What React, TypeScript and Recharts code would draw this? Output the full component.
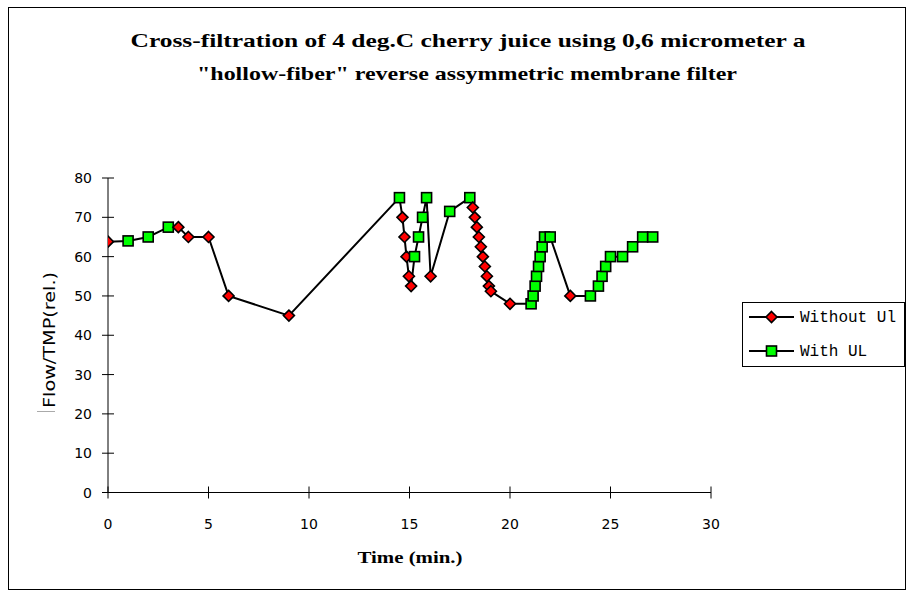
import React from 'react';
import { ComposedChart, Scatter, XAxis, YAxis } from 'recharts';

// Filtration run without ultrasound (red diamonds)
const withoutUlTime = [0, 3.5, 4, 5, 6, 9, 14.65, 14.75, 14.85, 14.97, 15.08, 16.05, 18.15, 18.25, 18.35, 18.45, 18.55, 18.65, 18.75, 18.85, 18.95, 19.05, 20, 23];
const withoutUlFlow = [63.8, 67.5, 65, 65, 50, 45, 70, 65, 60, 55, 52.5, 55, 72.5, 70, 67.5, 65, 62.5, 60, 57.5, 55, 52.5, 51.2, 48, 50];

// Filtration run with ultrasound (green squares)
const withUlTime = [1, 2, 3, 14.5, 15.25, 15.45, 15.65, 15.85, 17, 18, 21.05, 21.15, 21.25, 21.32, 21.42, 21.5, 21.6, 21.72, 22, 24, 24.4, 24.58, 24.76, 25, 25.6, 26.1, 26.6, 27.1];
const withUlFlow = [64, 65, 67.5, 75, 60, 65, 70, 75, 71.5, 75, 48, 50, 52.5, 55, 57.5, 60, 62.5, 65, 65, 50, 52.5, 55, 57.5, 60, 60, 62.5, 65, 65];

const xTicks = [0, 5, 10, 15, 20, 25, 30];
const yTicks = [0, 10, 20, 30, 40, 50, 60, 70, 80];

const seriesNames = ['Without Ul', 'With UL'];
const titleLines = [
  'Cross-filtration of 4 deg.C cherry juice using 0,6 micrometer a',
  '"hollow-fiber" reverse assymmetric membrane filter',
];
const xTitle = 'Time (min.)';
const yTitle = 'Flow/TMP(rel.)';

type Pt = { t: number; v: number; kind: 'without' | 'with' };

// One time-ordered trace: the connecting line runs through both runs in sequence
const combined: Pt[] = [
  ...withoutUlTime.map((t, i) => ({ t, v: withoutUlFlow[i], kind: 'without' as const })),
  ...withUlTime.map((t, i) => ({ t, v: withUlFlow[i], kind: 'with' as const })),
].sort((a, b) => a.t - b.t);

const W = 913;
const H = 595;
const PLOT = { left: 108, right: 711, top: 178, bottom: 492.5 };

const Diamond = ({ cx, cy, r = 5.5 }: { cx: number; cy: number; r?: number }) => (
  <path
    d={`M${cx},${cy - r}L${cx + r},${cy}L${cx},${cy + r}L${cx - r},${cy}Z`}
    fill="#ff0000"
    stroke="#000"
    strokeWidth={1.6}
  />
);

const Square = ({ cx, cy, s = 5 }: { cx: number; cy: number; s?: number }) => (
  <rect x={cx - s} y={cy - s} width={2 * s} height={2 * s} fill="#00ff00" stroke="#000" strokeWidth={1.6} />
);

const markerShape = (props: any) => {
  const { cx, cy, payload } = props;
  if (cx == null || cy == null) return <g />;
  return payload.kind === 'without' ? <Diamond cx={cx} cy={cy} /> : <Square cx={cx} cy={cy} />;
};

const tickFont = { fontFamily: 'DejaVu Sans', fontSize: 14, fill: '#000' };

const YTick = (props: any) => {
  const { x, y, payload } = props;
  return (
    <g>
      <line x1={x - 6} x2={x + 6} y1={y} y2={y} stroke="#000" strokeWidth={1} />
      <text x={x - 16} y={y + 5} textAnchor="end" {...tickFont}>
        {payload.value}
      </text>
    </g>
  );
};

const XTick = (props: any) => {
  const { x, y, payload } = props;
  return (
    <g>
      <line x1={x} x2={x} y1={y - 6} y2={y + 6} stroke="#000" strokeWidth={1} />
      <text x={x} y={y + 36} textAnchor="middle" {...tickFont}>
        {payload.value}
      </text>
    </g>
  );
};

export default function App() {
  return (
    <div style={{ position: 'absolute', left: 0, top: 0, width: W, height: H, background: '#fff' }}>
      <ComposedChart
        width={W}
        height={H}
        margin={{ top: PLOT.top, right: W - PLOT.right, bottom: H - PLOT.bottom - 40, left: PLOT.left - 60 }}
      >
        <XAxis
          type="number"
          dataKey="t"
          domain={[0, 30]}
          ticks={xTicks}
          interval={0}
          height={40}
          tickSize={0}
          tickMargin={0}
          tickLine={false}
          axisLine={{ stroke: '#000', strokeWidth: 1 }}
          tick={<XTick />}
          allowDataOverflow
        />
        <YAxis
          type="number"
          dataKey="v"
          domain={[0, 80]}
          ticks={yTicks}
          interval={0}
          width={60}
          tickSize={0}
          tickMargin={0}
          tickLine={false}
          axisLine={{ stroke: '#000', strokeWidth: 1 }}
          tick={<YTick />}
          allowDataOverflow
        />
        <Scatter
          data={combined}
          dataKey="v"
          line={{ stroke: '#000', strokeWidth: 2 }}
          shape={markerShape}
          legendType="none"
          isAnimationActive={false}
        />
      </ComposedChart>

      <svg
        width={W}
        height={H}
        style={{ position: 'absolute', left: 0, top: 0, pointerEvents: 'none' }}
      >
        <rect x={8.5} y={7.5} width={897} height={582} fill="none" stroke="#000" strokeWidth={1} />

        <text x={468} y={47} textAnchor="middle" fontFamily="Liberation Serif" fontWeight="bold" fontSize={19}
          textLength={675} lengthAdjust="spacingAndGlyphs">
          {titleLines[0]}
        </text>
        <text x={467} y={80} textAnchor="middle" fontFamily="Liberation Serif" fontWeight="bold" fontSize={19}
          textLength={540} lengthAdjust="spacingAndGlyphs">
          {titleLines[1]}
        </text>

        <text x={410} y={563} textAnchor="middle" fontFamily="Liberation Serif" fontWeight="bold" fontSize={16}
          textLength={105} lengthAdjust="spacingAndGlyphs">
          {xTitle}
        </text>

        <line x1={37} x2={55} y1={411.5} y2={411.5} stroke="#aaa" strokeWidth={1} />
        <text x={0} y={0} transform="translate(55,340) rotate(-90)" textAnchor="middle" fontFamily="DejaVu Sans"
          fontSize={16} textLength={136} lengthAdjust="spacingAndGlyphs">
          {yTitle}
        </text>

        <rect x={742.5} y={302.5} width={162} height={64} fill="#fff" stroke="#000" strokeWidth={1} />
        <line x1={749} x2={794} y1={317} y2={317} stroke="#000" strokeWidth={2} />
        <Diamond cx={771.5} cy={317} />
        <text x={800} y={322} fontFamily="Liberation Mono" fontSize={16}>{seriesNames[0]}</text>
        <line x1={749} x2={794} y1={351} y2={351} stroke="#000" strokeWidth={2} />
        <Square cx={771.5} cy={351} />
        <text x={800} y={356} fontFamily="Liberation Mono" fontSize={16}>{seriesNames[1]}</text>
      </svg>
    </div>
  );
}
